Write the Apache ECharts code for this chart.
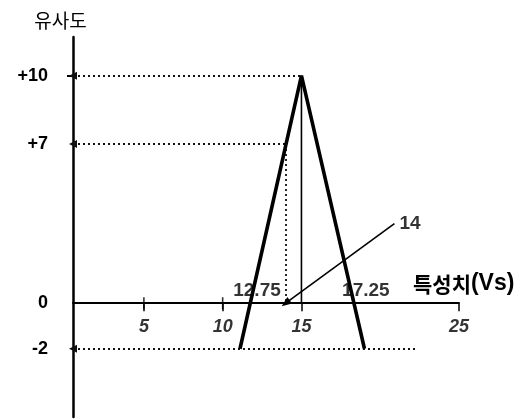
<!DOCTYPE html>
<html><head><meta charset="utf-8">
<script src="https://cdn.jsdelivr.net/npm/echarts@6/dist/echarts.min.js"></script>
<style>html,body{margin:0;padding:0;background:#fff}#c{width:524px;height:419px}</style>
</head><body><div id="c"></div>
<script>
// ---- data ----
const xTickValues = [5, 10, 15, 25];
const xCrossTicks = [5, 10];
const yTickValues = [10, 7, 0, -2];
const yLongTick = [10];
const curveX = [11.1, 15, 19];
const curveY = [-2, 10, -2];
const peakX = 15;
const peakY = 10;
const crossLeft = 12.75;
const crossRight = 17.25;
const level7 = 7;
const level7X = 14;
const lowLevel = -2;
const lowLevelEndX = 22.3;
const pointerFrom = [20.9, 3.5];
const pointerTo = [14, 0];
const pointerText = '14';
const xNameMain = '특성치';
const xNameUnit = '(Vs)';
const yName = '유사도';
const xRange = [0.5, 25];
const yRange = [-5, 11.7];

const latin = '"Liberation Sans", Arial, sans-serif';
const cjk = '"Noto Sans CJK KR", sans-serif';

const curveData = curveX.map((x, i) => [x, curveY[i]]);
const dotted = { type: [2, 3], width: 1.8, color: '#111' };
const leftArrow = { symbol: 'triangle', symbolSize: [8, 8] };

const chart = echarts.init(document.getElementById('c'), null, { renderer: 'canvas' });
chart.setOption({
  animation: false,
  backgroundColor: '#fff',
  grid: { left: 73, right: 65, top: 37, bottom: 2, containLabel: false, outerBoundsMode: 'none' },
  xAxis: [{
    type: 'value', min: xRange[0], max: xRange[1],
    axisLine: { show: true, onZero: true, lineStyle: { color: '#000', width: 2 } },
    axisTick: { show: true, inside: false, length: 8, customValues: xTickValues, lineStyle: { color: '#000', width: 1.5 } },
    axisLabel: { show: false },
    splitLine: { show: false },
    name: '{k|' + xNameMain + '}{v|' + xNameUnit + '}',
    nameLocation: 'end', nameGap: -46,
    nameTextStyle: { verticalAlign: 'bottom', align: 'left', padding: [0, 0, 8, 0],
      rich: {
        k: { fontFamily: cjk, fontWeight: 'bold', fontSize: 21, color: '#000' },
        v: { fontFamily: latin, fontWeight: 'bold', fontSize: 23, color: '#000' }
      } }
  }],
  yAxis: {
    type: 'value', min: yRange[0], max: yRange[1],
    axisLine: { show: true, onZero: false, lineStyle: { color: '#000', width: 2.5 } },
    axisTick: { show: true, length: 6, customValues: yLongTick, lineStyle: { color: '#000', width: 2 } },
    axisLabel: { show: true, customValues: yTickValues, margin: 25, color: '#000',
      fontFamily: latin, fontWeight: 'bold', fontSize: 18,
      formatter: v => (v > 0 ? '+' + v : String(v)) },
    splitLine: { show: false },
    name: yName, nameLocation: 'end', nameGap: 7,
    nameTextStyle: { fontFamily: cjk, fontSize: 19, color: '#000', verticalAlign: 'bottom', align: 'center', padding: [0, 25, 0, 0] }
  },
  series: [{
    type: 'line', data: curveData, symbol: 'none', silent: true,
    lineStyle: { color: '#000', width: 3.6 }, z: 5
  }, {
    type: 'line', data: [[peakX, peakY], [peakX, 0]], symbol: 'none', silent: true,
    lineStyle: { color: '#000', width: 1.6 }, z: 4,
    markLine: {
      silent: true, label: { show: false }, animation: false,
      symbolSize: [8, 8],
      data: [
        [{ coord: [xRange[0], peakY], ...leftArrow, lineStyle: dotted }, { coord: [peakX, peakY], symbol: 'none' }],
        [{ coord: [xRange[0], level7], ...leftArrow, lineStyle: dotted }, { coord: [level7X, level7], symbol: 'none' }],
        [{ coord: [level7X, level7], symbol: 'none', lineStyle: dotted }, { coord: [level7X, 0], symbol: 'none' }],
        [{ coord: [xRange[0], lowLevel], ...leftArrow, lineStyle: dotted }, { coord: [lowLevelEndX, lowLevel], symbol: 'none' }],
        [{ coord: pointerFrom, symbol: 'none', lineStyle: { type: 'solid', width: 1.6, color: '#000' } },
         { coord: pointerTo, symbol: 'triangle', symbolSize: [8, 10] }]
      ]
    }
  }, {
    // x tick labels, placed on the zero line through the axis scale
    type: 'scatter', symbolSize: 0, silent: true, z: 6,
    data: xTickValues.map(v => [v, 0]),
    label: { show: true, position: 'bottom', distance: 15, color: '#000',
      fontFamily: latin, fontWeight: 'bold', fontStyle: 'italic', fontSize: 18,
      formatter: p => String(p.value[0]) }
  }, {
    // crossing tick marks at 5 and 10
    type: 'scatter', symbol: 'rect', symbolSize: [1.6, 12], silent: true, z: 6,
    itemStyle: { color: '#000' },
    data: xCrossTicks.map(v => [v, 0])
  }, {
    type: 'scatter', symbolSize: 0, silent: true, z: 6,
    label: { show: true, color: '#000', fontFamily: latin, fontWeight: 'bold', fontSize: 19 },
    data: [
      { value: [crossLeft, 0], label: { formatter: String(crossLeft), position: 'top', offset: [-9, 2] } },
      { value: [crossRight, 0], label: { formatter: String(crossRight), position: 'top', offset: [29, 2] } },
      { value: pointerFrom, label: { formatter: pointerText, position: 'right', distance: 5 } }
    ]
  }]
});
</script></body></html>
